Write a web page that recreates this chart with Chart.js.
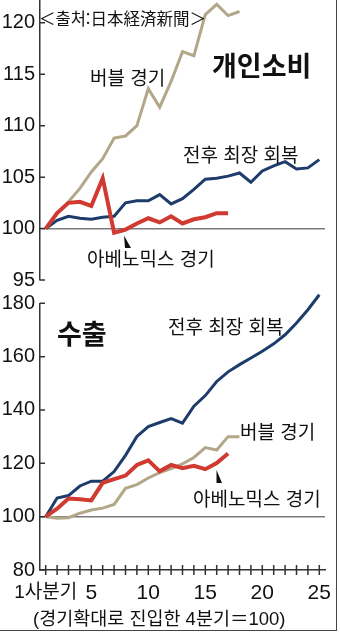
<!DOCTYPE html>
<html lang="ko">
<head>
<meta charset="utf-8">
<script src="https://cdn.jsdelivr.net/npm/chart.js@4.4.1/dist/chart.umd.min.js"></script>
<style>
  html, body { margin: 0; padding: 0; background: #fff; }
  #wrap { position: relative; width: 340px; height: 634px; overflow: hidden; color: #111; font-family: 'Noto Sans CJK KR', sans-serif; }
  canvas { position: absolute; left: 0; }
  #topChart { top: 0; }
  #bottomChart { top: 292px; }
  .note { position: absolute; white-space: nowrap; line-height: 1; font-size: 19px; }
  .big { font-size: 27px; font-weight: 700; }
  .src { font-family: 'Noto Sans CJK JP', sans-serif; font-size: 16.5px; }
  .foot { font-family: 'Liberation Sans', 'Noto Sans CJK KR', sans-serif; font-size: 18.5px; }
  .frame { position: absolute; left: -2px; top: -2px; width: 338px; height: 632px; border-right: 1.5px solid #444; border-bottom: 1.5px solid #444; }
  svg { position: absolute; left: 0; top: 0; pointer-events: none; }
</style>
</head>
<body>
<div id="wrap">
  <canvas id="topChart" width="340" height="292"></canvas>
  <canvas id="bottomChart" width="340" height="342"></canvas>

  <div class="note src" style="left:39px; top:10px;">＜출처:日本経済新聞＞</div>
  <div class="note big" style="left:212px; top:50.5px;">개인소비</div>
  <div class="note" style="left:90px; top:67px;">버블 경기</div>
  <div class="note" style="left:183px; top:144px;">전후 최장 회복</div>
  <div class="note" style="left:87px; top:247.5px;">아베노믹스 경기</div>

  <div class="note big" style="left:57px; top:319px;">수출</div>
  <div class="note" style="left:168px; top:315.5px;">전후 최장 회복</div>
  <div class="note" style="left:240px; top:420.5px;">버블 경기</div>
  <div class="note" style="left:193px; top:487.5px;">아베노믹스 경기</div>

  <div class="note foot" style="left:33px; top:609.5px;">(경기확대로 진입한 4분기＝100)</div>

  <svg width="340" height="634">
    <polygon points="124,235.5 125,248 131,248" fill="#111"/>
    <polygon points="216.5,470 216.5,483 222,483" fill="#111"/>
  </svg>
  <div class="frame"></div>
</div>

<script>
const quarterLabels = ['1사분기', '', '', '', '5', '', '', '', '', '10', '', '', '', '', '15', '', '', '', '', '20', '', '', '', '', '25'];

// 개인소비
const spendingTicks = [95, 100, 105, 110, 115, 120];
const spendingPostwar = [100, 100.8, 101.2, 101.0, 100.9, 101.1, 101.2, 102.5, 102.7, 102.7, 103.3, 102.4, 102.9, 103.8, 104.8, 104.9, 105.1, 105.4, 104.5, 105.6, 106.1, 106.5, 105.8, 105.9, 106.7];
const spendingBubble = [100, 101.5, 102.6, 103.9, 105.5, 106.8, 108.8, 109.0, 110.0, 113.6, 111.8, 114.3, 117.2, 116.8, 120.8, 121.8, 120.7, 121.1];
const spendingAbenomics = [100, 101.5, 102.5, 102.6, 102.2, 104.9, 99.6, 99.9, 100.5, 101.0, 100.6, 101.2, 100.5, 100.9, 101.1, 101.5, 101.5];

// 수출
const exportTicks = [80, 100, 120, 140, 160, 180];
const exportPostwar = [100, 107.0, 107.9, 111.5, 113.3, 113.3, 116.9, 123.0, 130.1, 133.8, 135.3, 136.8, 135.1, 141.4, 145.4, 150.7, 154.3, 157.0, 159.5, 162.0, 164.8, 168.2, 172.6, 177.6, 183.2];
const exportBubble = [100, 99.4, 99.6, 101.3, 102.5, 103.2, 104.6, 110.6, 112.0, 114.5, 116.5, 118.0, 119.8, 122.2, 125.9, 125.0, 130.0, 130.0];
const exportAbenomics = [100, 103.0, 106.8, 106.5, 106.1, 112.7, 114.1, 115.4, 119.4, 121.1, 117.0, 119.4, 118.2, 119.1, 117.8, 120.1, 123.7];

const COLORS = { postwar: '#1d3c6b', bubble: '#b3a78a', abe: '#d03a30', axis: '#333', base: '#7a7a7a' };
const NUM_FONT = "'Liberation Sans', 'Noto Sans CJK KR', sans-serif";

// y축 눈금은 안쪽으로, x축 눈금은 축선을 가로지르게
const innerTicks = {
  id: 'innerTicks',
  afterDraw: (chart, args, opts) => {
    const { ctx, chartArea } = chart;
    const y = chart.scales.y;
    ctx.save();
    ctx.strokeStyle = COLORS.axis;
    ctx.lineWidth = 1.5;
    ctx.beginPath();
    y.ticks.forEach(t => {
      const py = y.getPixelForValue(t.value);
      ctx.moveTo(chartArea.left, py);
      ctx.lineTo(chartArea.left + 5, py);
    });
    if (opts.xTicks) {
      const x = chart.scales.x;
      x.ticks.forEach((t, i) => {
        const px = x.getPixelForTick(i);
        ctx.moveTo(px, chartArea.bottom - 5);
        ctx.lineTo(px, chartArea.bottom + 5);
      });
    }
    ctx.stroke();
    ctx.restore();
  }
};

const makeDatasets = (postwar, bubble, abe) => [
  { data: abe, borderColor: COLORS.abe, borderWidth: 4, order: 0 },
  { data: postwar, borderColor: COLORS.postwar, borderWidth: 3, order: 1 },
  { data: bubble, borderColor: COLORS.bubble, borderWidth: 3, order: 2 }
].map(ds => ({ ...ds, pointRadius: 0, tension: 0, fill: false, clip: false }));

const makeYScale = (min, max, tickValues) => ({
  min, max,
  afterBuildTicks: scale => { scale.ticks = tickValues.map(value => ({ value })); },
  afterFit: scale => { scale.width = 40; scale.paddingTop = 0; scale.paddingBottom = 0; },
  ticks: { font: { family: NUM_FONT, size: 20 }, color: '#111', padding: 5 },
  grid: {
    drawTicks: false,
    lineWidth: 1.5,
    color: ctx => (ctx.tick && ctx.tick.value === 100 ? COLORS.base : 'rgba(0,0,0,0)')
  },
  border: { display: true, color: COLORS.axis, width: 1.5 }
});

const baseOptions = {
  responsive: false,
  animation: false,
  events: [],
  plugins: { legend: { display: false }, tooltip: { enabled: false } }
};

new Chart(document.getElementById('topChart'), {
  type: 'line',
  data: { labels: quarterLabels, datasets: makeDatasets(spendingPostwar, spendingBubble, spendingAbenomics) },
  options: {
    ...baseOptions,
    layout: { padding: { left: 0, right: 15, top: 0, bottom: 12 } },
    scales: {
      x: { type: 'category', offset: true, display: false },
      y: makeYScale(95, 122.22, spendingTicks)
    }
  },
  plugins: [innerTicks]
});

new Chart(document.getElementById('bottomChart'), {
  type: 'line',
  data: { labels: quarterLabels, datasets: makeDatasets(exportPostwar, exportBubble, exportAbenomics) },
  options: {
    ...baseOptions,
    layout: { padding: { left: 0, right: 15, top: 11.3, bottom: 0 } },
    plugins: { ...baseOptions.plugins, innerTicks: { xTicks: true } },
    scales: {
      x: {
        type: 'category',
        offset: true,
        afterFit: scale => { scale.height = 64; scale.paddingLeft = 0; scale.paddingRight = 0; },
        ticks: {
          autoSkip: false,
          maxRotation: 0,
          padding: 6,
          color: '#111',
          font: ctx => ({ family: NUM_FONT, size: ctx.index === 0 ? 19 : 21 })
        },
        grid: { drawOnChartArea: false, drawTicks: true, tickLength: 5, color: 'rgba(0,0,0,0)' },
        border: { display: true, color: COLORS.axis, width: 1.5 }
      },
      y: makeYScale(80, 180, exportTicks)
    }
  },
  plugins: [innerTicks]
});
</script>
</body>
</html>
